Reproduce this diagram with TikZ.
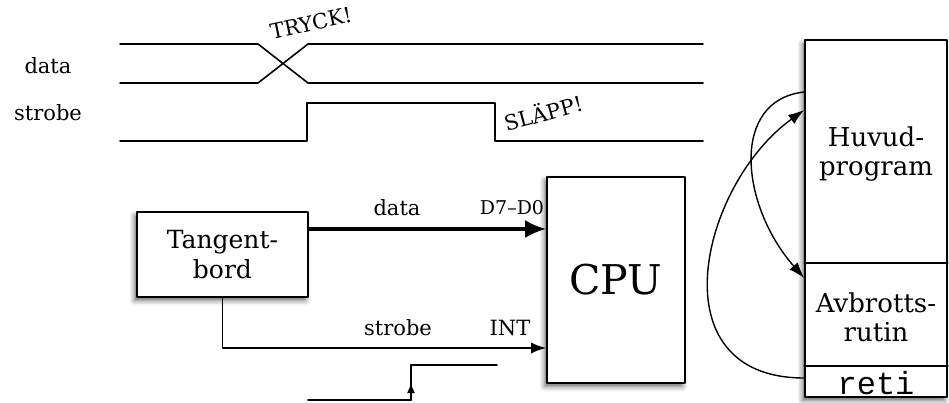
\documentclass[tikz,border=0pt]{standalone}
\usepackage{fontspec}
\setmainfont{DejaVu Serif}
\setmonofont{Liberation Mono}
\usetikzlibrary{arrows.meta,calc,shadows.blur}

\begin{document}
\begin{tikzpicture}[line width=1.6pt, line cap=round, line join=round, >=Latex, x=1pt, y=-1pt,
  box/.style={draw, fill=white, inner sep=0pt,
    blur shadow={shadow xshift=-2.5pt, shadow yshift=-3.5pt, shadow blur radius=5pt, shadow opacity=60}},
  lbl/.style={font=\fontsize{21}{25}\selectfont, inner sep=0pt},
  big/.style={font=\fontsize{25}{30}\selectfont, align=center, inner sep=0pt}]
  \useasboundingbox (0,0) rectangle (949,402);
  % --- timing diagram ---
  \node[lbl] (tdata) at (48,66) {data};
  \node[lbl] (tstrobe) at (48,113) {strobe};
  \draw (120,44) -- (258,44) -- (308,83) -- (703,83);
  \draw (120,83) -- (258,83) -- (308,44) -- (703,44);
  \draw (120,141) -- (307,141) -- (307,103) -- (495,103) -- (495,141) -- (703,141);
  \node[lbl, rotate=12] (tryck) at (311,23) {TRYCK!};
  \node[lbl, rotate=15] (slapp) at (543,112) {SLÄPP!};
  % --- keyboard and CPU ---
  \node[box, big, minimum width=171pt, minimum height=85pt] (kbd) at (222.5,254.5) {Tangent-\\bord};
  \node[box, minimum width=138pt, minimum height=206pt, font=\fontsize{41}{49}\selectfont] (cpu) at (616,280) {CPU};
  \coordinate (dout) at (kbd.east |- 0,229);
  \draw[line width=3.5pt, -{Latex[length=21pt,width=18pt]}] (dout) -- (dout -| cpu.west);
  \node[lbl] (ldata) at (397,208) {data};
  \node[lbl, font=\fontsize{19}{23}\selectfont] (ldbus) at (512,208) {D7–D0};
  \coordinate (intin) at (cpu.west |- 0,348);
  \draw[-{Latex[length=15pt,width=11pt]}] (kbd.south) |- (intin);
  \node[lbl] (lstrobe) at (398,328) {strobe};
  \node[lbl] (lint) at (510,328) {INT};
  % --- rising edge ---
  \coordinate (edge) at (411,400);
  \draw (308,400) -- (edge) -- (411,365) -- (497,365);
  \draw[-{Latex[length=10pt,width=8pt]}] (edge) -- (411,383);
  % --- memory ---
  \node[box, minimum width=142pt, minimum height=357pt] (mem) at (876,218.5) {};
  \coordinate (div1) at (mem.west |- 0,263);
  \coordinate (div2) at (mem.west |- 0,366);
  \draw (div1) -- (div1 -| mem.east);
  \draw (div2) -- (div2 -| mem.east);
  \node[big, font=\fontsize{26}{29}\selectfont] (huvud) at (876,154) {Huvud-\\program};
  \node[big, font=\fontsize{26}{29}\selectfont] (avbr) at (876,317) {Avbrotts-\\rutin};
  \node[anchor=base, inner sep=0pt, font=\ttfamily\fontsize{32}{32}\selectfont] (reti) at (876,394) {reti};
  \coordinate (jumpfrom) at (mem.west |- 0,92);
  \coordinate (jumpto) at (mem.west |- 0,278);
  \coordinate (retfrom) at (mem.west |- 0,378);
  \coordinate (retto) at (mem.west |- 0,110);
  \draw[line width=1.4pt, -{Latex[length=16pt,width=11pt]}] (jumpfrom) .. controls (730,100) and (740,205) .. (jumpto);
  \draw[line width=1.4pt, -{Latex[length=16pt,width=11pt]}] (retfrom) .. controls (655,378) and (700,185) .. (retto);
\end{tikzpicture}
\end{document}
